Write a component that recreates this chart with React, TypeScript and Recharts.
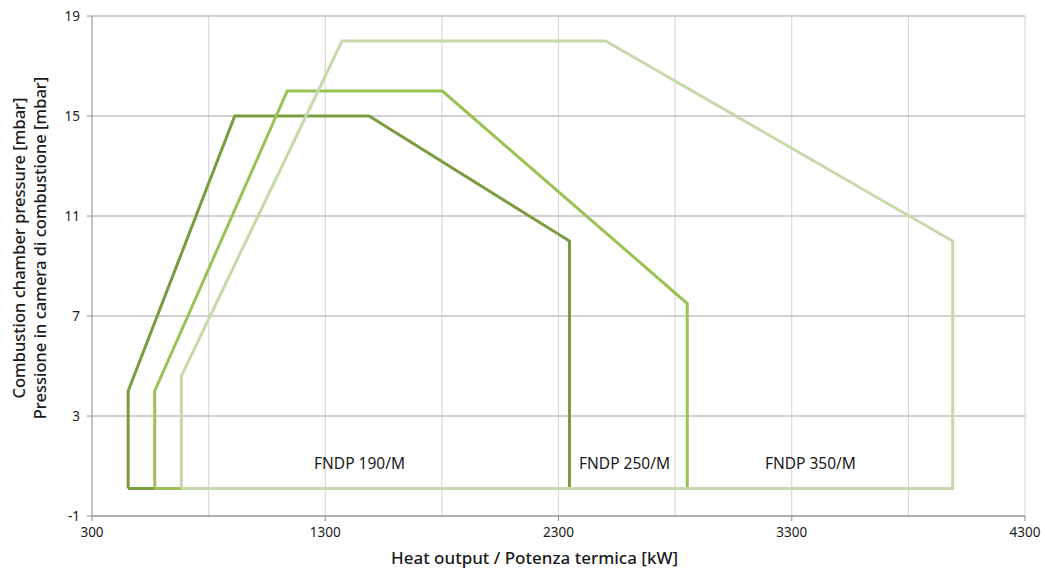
import {
  LineChart, Line, XAxis, YAxis, CartesianGrid, ReferenceDot, Label,
} from 'recharts'

const DARK   = '#7b9c3e'
const MID    = '#9cc155'
const LIGHT  = '#c6d9aa'
const FONT   = '"Noto Sans", sans-serif'

// operating envelopes: heat output (kW) / chamber pressure (mbar)
const fndp190 = [
  { x: 455, y: 0.1 }, { x: 455, y: 4.0 }, { x: 912, y: 15 }, { x: 1488, y: 15 },
  { x: 2347, y: 10 }, { x: 2347, y: 0.1 }, { x: 455, y: 0.1 },
]
const fndp250 = [
  { x: 569, y: 0.1 }, { x: 569, y: 4.0 }, { x: 1137, y: 16 }, { x: 1802, y: 16 },
  { x: 2852, y: 7.5 }, { x: 2852, y: 0.1 }, { x: 569, y: 0.1 },
]
const fndp350 = [
  { x: 683, y: 0.1 }, { x: 683, y: 4.6 }, { x: 1372, y: 18 }, { x: 2502, y: 18 },
  { x: 3990, y: 10 }, { x: 3990, y: 0.1 }, { x: 683, y: 0.1 },
]

const labels = [
  { x: 1447, y: 1.1, text: 'FNDP 190/M' },
  { x: 2583, y: 1.1, text: 'FNDP 250/M' },
  { x: 3380, y: 1.1, text: 'FNDP 350/M' },
]

const xTicks = [300, 1300, 2300, 3300, 4300]
const xMinor = [800, 1300, 1800, 2300, 2800, 3300, 3800, 4300]
const yTicks = [-1, 3, 7, 11, 15, 19]

const Y_TITLE_1 = 'Combustion chamber pressure [mbar]'
const Y_TITLE_2 = 'Pressione in camera di combustione [mbar]'
const X_TITLE   = 'Heat output / Potenza termica [kW]'

function YTitle() {
  const cy = 248
  return (
    <g fontFamily={FONT} fontSize={16.5} fontWeight={500} fill="#1a1a1a">
      <text x={18} y={cy} transform={`rotate(-90 18 ${cy})`} textAnchor="middle" dominantBaseline="central">
        {Y_TITLE_1}
      </text>
      <text x={39} y={cy} transform={`rotate(-90 39 ${cy})`} textAnchor="middle" dominantBaseline="central">
        {Y_TITLE_2}
      </text>
    </g>
  )
}

export default function App() {
  return (
    <div style={{ width: 1045, height: 573, background: '#fff' }}>
      <style>{'body{margin:0}'}</style>
      <LineChart width={1045} height={573} margin={{ top: 16, right: 20, bottom: 7, left: 0 }}>
        <CartesianGrid horizontal={false} verticalValues={xMinor} stroke="#d3d3d3" strokeWidth={1} />
        <CartesianGrid vertical={false} horizontalValues={yTicks} stroke="#a3a3a3" strokeWidth={1} />
        <XAxis
          dataKey="x" type="number" domain={[300, 4300]} ticks={xTicks}
          height={50} tickSize={5} tickMargin={6}
          stroke="#8c8c8c" allowDuplicatedCategory={false}
          tick={{ fontSize: 13.5, fill: '#1a1a1a', fontFamily: FONT }}
        >
          <Label
            value={X_TITLE} position="insideBottom" offset={2} dx={-24}
            style={{ fontSize: 17, fontWeight: 500, fill: '#1a1a1a', fontFamily: FONT }}
          />
        </XAxis>
        <YAxis
          type="number" domain={[-1, 19]} ticks={yTicks} width={92}
          tickSize={5} tickMargin={7} stroke="#8c8c8c"
          tick={{ fontSize: 13.5, fill: '#1a1a1a', fontFamily: FONT }}
        >
          <Label content={<YTitle />} />
        </YAxis>
        <Line data={fndp190} dataKey="y" type="linear" stroke={DARK} strokeWidth={3} dot={false} isAnimationActive={false} />
        <Line data={fndp250} dataKey="y" type="linear" stroke={MID} strokeWidth={3} dot={false} isAnimationActive={false} />
        <Line data={fndp350} dataKey="y" type="linear" stroke={LIGHT} strokeWidth={3} dot={false} isAnimationActive={false} />
        {labels.map(l => (
          <ReferenceDot
            key={l.text} x={l.x} y={l.y} r={0} fill="none" stroke="none"
            label={{ value: l.text, position: 'center', fontSize: 15.5, fill: '#1a1a1a', fontFamily: FONT }}
          />
        ))}
      </LineChart>
    </div>
  )
}
